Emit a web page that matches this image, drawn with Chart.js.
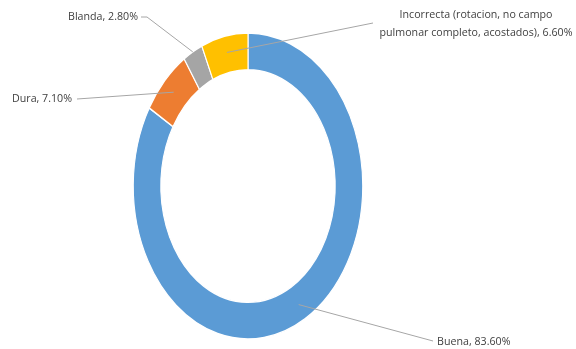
<!DOCTYPE html>
<html>
<head>
<meta charset="utf-8">
<script src="https://cdn.jsdelivr.net/npm/chart.js@4/dist/chart.umd.min.js"></script>
<style>
  html, body { margin: 0; padding: 0; background: #fff; }
  #wrap { width: 576px; height: 349px; position: relative; }
</style>
</head>
<body>
<div id="wrap"><canvas id="Chart1"></canvas></div>
<script>
var categories = ["Buena", "Dura", "Blanda", "Incorrecta (rotacion, no campo pulmonar completo, acostados)"];
var percentages = [83.6, 7.1, 2.8, 6.6];
var sliceColors = ["#5b9bd5", "#ed7d31", "#a5a5a5", "#ffc000"];

// where each label sits and where its leader line starts
var labelSpots = [
  { x: 437, y: 342, align: "left",   from: [433, 341] },
  { x: 12,  y: 99,  align: "left",   from: [77, 99] },
  { x: 138, y: 17,  align: "right",  from: [141, 17], elbow: [147, 17] },
  { x: 476, y: 15,  align: "center", from: [373, 23], wrap: 200 }
];
// how far into the ring the leader line ends (0 = inner edge, 1 = outer edge)
var lineDepth = [0.55, 0.55, 1, 0.55];

var squeezeX = 0.75;
var textSqueeze = 0.97;

function wrapText(ctx, text, maxW) {
  if (!maxW) return [text];
  var words = text.split(" "), lines = [], cur = "";
  words.forEach(function (w) {
    var test = cur ? cur + " " + w : w;
    if (ctx.measureText(test).width * textSqueeze > maxW && cur) {
      lines.push(cur);
      cur = w;
    } else {
      cur = test;
    }
  });
  if (cur) lines.push(cur);
  return lines;
}

var ellipse = {
  id: "ellipse",
  beforeDatasetsDraw: function (chart) {
    var arc = chart.getDatasetMeta(0).data[0];
    var ctx = chart.ctx;
    ctx.save();
    ctx.translate(arc.x, arc.y);
    ctx.scale(squeezeX, 1);
    ctx.translate(-arc.x, -arc.y);
  },
  afterDatasetsDraw: function (chart) {
    chart.ctx.restore();
  }
};

var leaderLabels = {
  id: "leaderLabels",
  afterDraw: function (chart) {
    var ctx = chart.ctx;
    var arcs = chart.getDatasetMeta(0).data;
    ctx.save();
    ctx.font = "11px 'Open Sans'";
    ctx.textBaseline = "middle";
    arcs.forEach(function (arc, i) {
      var p = arc.getProps(["x", "y", "startAngle", "endAngle", "innerRadius", "outerRadius"], true);
      var mid = (p.startAngle + p.endAngle) / 2;
      var r = p.innerRadius + (p.outerRadius - p.innerRadius) * lineDepth[i];
      var ex = p.x + Math.cos(mid) * r * squeezeX;
      var ey = p.y + Math.sin(mid) * r;
      var spot = labelSpots[i];

      ctx.strokeStyle = "#a6a6a6";
      ctx.lineWidth = 1;
      ctx.beginPath();
      ctx.moveTo(spot.from[0], spot.from[1]);
      if (spot.elbow) ctx.lineTo(spot.elbow[0], spot.elbow[1]);
      ctx.lineTo(ex, ey);
      ctx.stroke();

      var text = categories[i] + ", " + percentages[i].toFixed(2) + "%";
      var lines = wrapText(ctx, text, spot.wrap);
      ctx.fillStyle = "#404040";
      ctx.textAlign = spot.align;
      lines.forEach(function (ln, k) {
        ctx.save();
        ctx.translate(spot.x, spot.y + k * 18);
        ctx.scale(textSqueeze, 1);
        ctx.fillText(ln, 0, 0);
        ctx.restore();
      });
    });
    ctx.restore();
  }
};

var ctx1 = document.getElementById("Chart1").getContext("2d");
var Chart1 = new Chart(ctx1, {
  type: "doughnut",
  data: {
    labels: categories,
    datasets: [{
      data: percentages,
      backgroundColor: sliceColors,
      borderColor: "#ffffff",
      borderWidth: 1.5
    }]
  },
  options: {
    responsive: true,
    maintainAspectRatio: false,
    animation: false,
    events: [],
    radius: 153,
    cutout: "76%",
    layout: { padding: { left: 90, right: 170, top: 30, bottom: 7 } },
    plugins: {
      legend: { display: false },
      tooltip: { enabled: false }
    }
  },
  plugins: [ellipse, leaderLabels]
});
</script>
</body>
</html>
